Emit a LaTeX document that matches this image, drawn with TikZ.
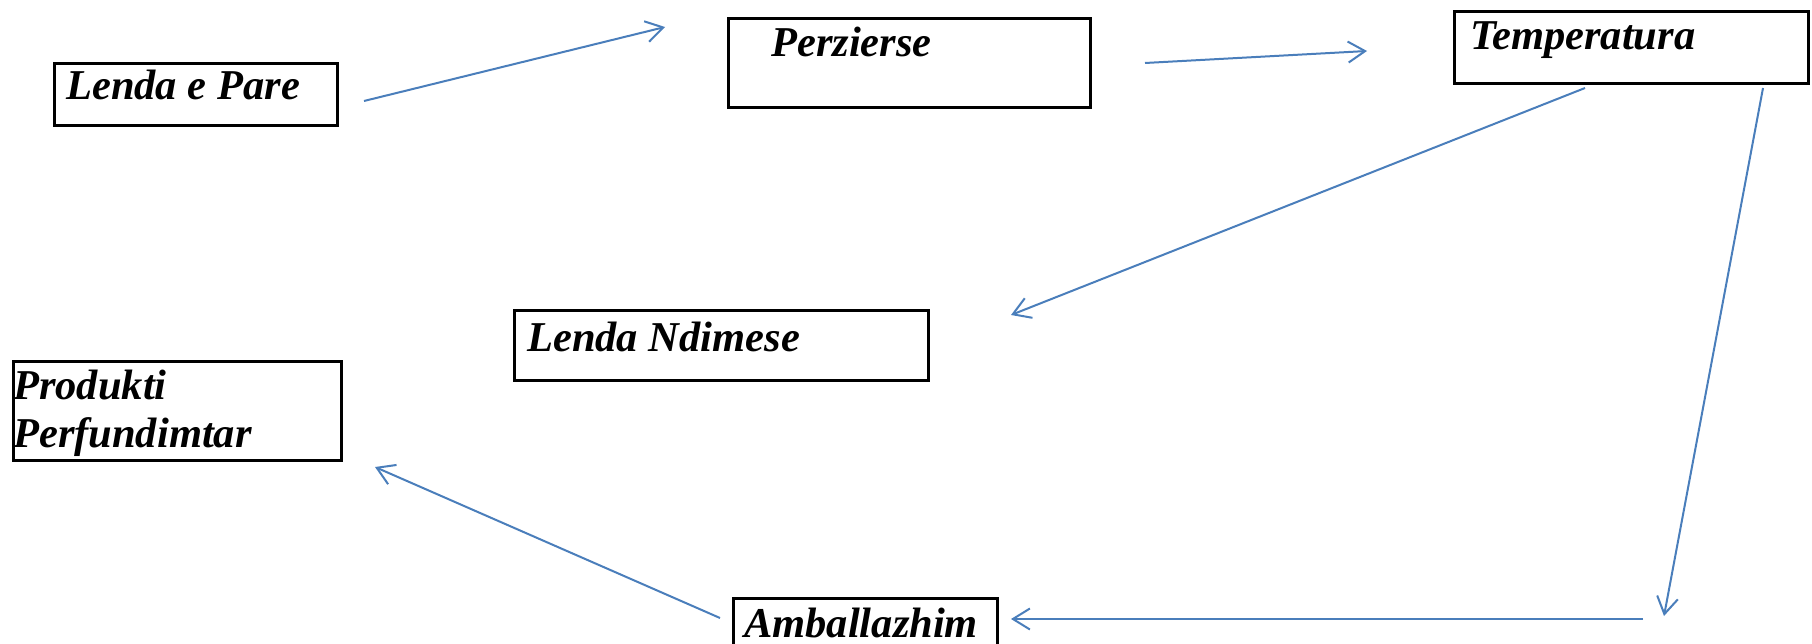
\documentclass[tikz,border=0pt]{standalone}
\usepackage{fontspec}
\setmainfont{Liberation Serif}
\usetikzlibrary{arrows.meta}
\definecolor{arrblue}{HTML}{4A7EBB}
\tikzset{
  box/.style={draw=black, line width=2.6pt, rectangle, inner sep=0pt, anchor=north west},
  lbl/.style={inner sep=0pt, anchor=base west, font=\fontsize{42.5}{48}\selectfont\bfseries\itshape},
  conn/.style={draw=arrblue, line width=2pt, -{Straight Barb[length=17pt,width=21pt,line width=2pt]}}
}
\begin{document}
\begin{tikzpicture}[x=1pt,y=-1pt]
\useasboundingbox (0,0) rectangle (1812,644);
% boxes
\node[box, minimum width=283pt, minimum height=62pt] (lepB) at (53,62) {};
\node[box, minimum width=362pt, minimum height=89pt] (perB) at (727,17) {};
\node[box, minimum width=354pt, minimum height=72pt] (tmpB) at (1453,10) {};
\node[box, minimum width=414pt, minimum height=70pt] (ndmB) at (513,309) {};
\node[box, minimum width=328pt, minimum height=99pt] (prdB) at (12,360) {};
\node[box, minimum width=264pt, minimum height=80pt] (ambB) at (732,597) {};
% labels
\node[lbl] (lep) at (66,100) {Lenda e Pare};
\node[lbl] (per) at (771,57) {Perzierse};
\node[lbl] (tmp) at (1470,50) {Temperatura};
\node[lbl] (ndm) at (527,351) {Lenda Ndimese};
\node[lbl] (prd1) at (13,399) {Produkti};
\node[lbl] (prd2) at (13,447) {Perfundimtar};
\node[lbl] (amb) at (744,637) {Amballazhim};
% connector end points
\coordinate (a1s) at (364,101); \coordinate (a1e) at (665,27);
\coordinate (a2s) at (1145,63); \coordinate (a2e) at (1367,51);
\coordinate (a3s) at (1585,88); \coordinate (a3e) at (1011,315);
\coordinate (a4s) at (1763,88); \coordinate (a4e) at (1664,616);
\coordinate (a5s) at (1643,619); \coordinate (a5e) at (1011,619);
\coordinate (a6s) at (720,618); \coordinate (a6e) at (375,467);
\draw[conn] (a1s) -- (a1e);
\draw[conn] (a2s) -- (a2e);
\draw[conn] (a3s) -- (a3e);
\draw[conn] (a4s) -- (a4e);
\draw[conn] (a5s) -- (a5e);
\draw[conn] (a6s) -- (a6e);
\end{tikzpicture}
\end{document}
